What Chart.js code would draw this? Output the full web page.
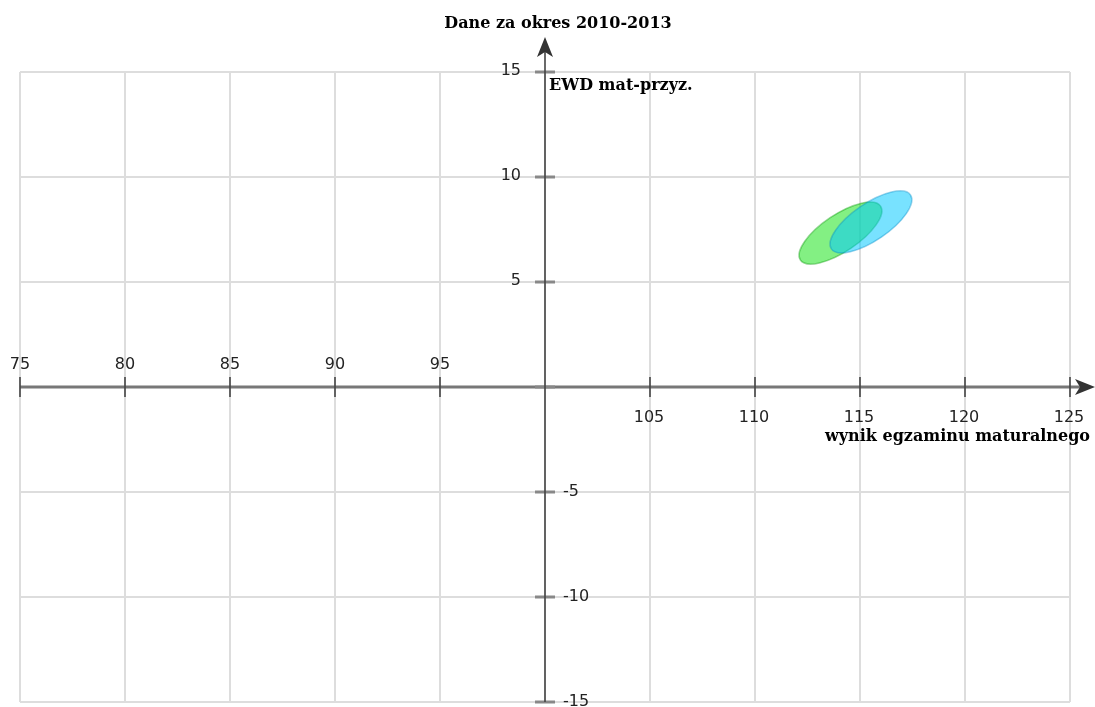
<!DOCTYPE html>
<html>
<head>
<meta charset="utf-8">
<script src="https://cdn.jsdelivr.net/npm/chart.js@4"></script>
<style>
  html, body { margin: 0; padding: 0; background: #ffffff; }
  #wrap { width: 1095px; height: 707px; position: relative; }
</style>
</head>
<body>
<div id="wrap"><canvas id="c" width="1095" height="707"></canvas></div>
<script>
// ---- data ----
const chartTitle = 'Dane za okres 2010-2013';
const xAxisTitle = 'wynik egzaminu maturalnego';
const yAxisTitle = 'EWD mat-przyz.';
const xTicks = [75, 80, 85, 90, 95, 100, 105, 110, 115, 120, 125];
const yTicks = [-15, -10, -5, 0, 5, 10, 15];
const seriesNames = ['elipsa 1', 'elipsa 2'];
const centerX = [114.07, 115.52];     // wynik egzaminu
const centerY = [7.33, 7.86];         // EWD
const semiMajor = [2.30, 2.28];       // data units
const semiMinor = [0.88, 0.88];       // data units
const tiltDeg = [33.9, 34.3];         // degrees, counter-clockwise
const fillColors = ['rgba(30,228,30,0.55)', 'rgba(0,200,255,0.53)'];
const strokeColors = ['rgba(0,150,0,0.4)', 'rgba(0,140,200,0.4)'];

const X_MIN = 75, X_MAX = 125, Y_MIN = -15, Y_MAX = 15, X_CROSS = 100, Y_CROSS = 0;

const ellipsePlugin = {
  id: 'ellipses',
  beforeDatasetsDraw(chart) {
    const ctx = chart.ctx;
    const xs = chart.scales.x, ys = chart.scales.y;
    const sx = xs.getPixelForValue(1) - xs.getPixelForValue(0);
    const sy = ys.getPixelForValue(0) - ys.getPixelForValue(1);
    chart.data.datasets.forEach((ds, i) => {
      const p = ds.data[0];
      const px = xs.getPixelForValue(p.x), py = ys.getPixelForValue(p.y);
      ctx.save();
      ctx.beginPath();
      ctx.translate(px, py);
      ctx.scale(sx, -sy);
      ctx.rotate(ds.tilt * Math.PI / 180);
      ctx.ellipse(0, 0, ds.rx, ds.ry, 0, 0, Math.PI * 2);
      ctx.restore();
      ctx.save();
      ctx.fillStyle = ds.fillCol;
      ctx.fill();
      ctx.lineWidth = 1.5;
      ctx.strokeStyle = ds.strokeCol;
      ctx.stroke();
      ctx.restore();
    });
  }
};

const axesPlugin = {
  id: 'crossAxes',
  afterDatasetsDraw(chart) {
    const ctx = chart.ctx;
    const xs = chart.scales.x, ys = chart.scales.y;
    const ax = xs.getPixelForValue(X_CROSS);
    const ay = ys.getPixelForValue(Y_CROSS);
    const left = xs.getPixelForValue(X_MIN), right = xs.getPixelForValue(X_MAX);
    const top = ys.getPixelForValue(Y_MAX), bottom = ys.getPixelForValue(Y_MIN);
    ctx.save();
    // x axis line
    ctx.strokeStyle = '#777777';
    ctx.lineWidth = 3;
    ctx.beginPath();
    ctx.moveTo(left, ay);
    ctx.lineTo(right + 15, ay);
    ctx.stroke();
    // y-axis ticks (gray, thick)
    ctx.strokeStyle = '#888888';
    ctx.lineWidth = 3;
    yTicks.forEach(v => {
      const y = ys.getPixelForValue(v);
      ctx.beginPath();
      ctx.moveTo(ax - 10, y);
      ctx.lineTo(ax + 10, y);
      ctx.stroke();
    });
    // y axis line
    ctx.strokeStyle = '#444444';
    ctx.lineWidth = 1.6;
    ctx.beginPath();
    ctx.moveTo(ax, bottom);
    ctx.lineTo(ax, top - 22);
    ctx.stroke();
    // x-axis ticks (dark, thin)
    ctx.strokeStyle = '#444444';
    ctx.lineWidth = 1.6;
    xTicks.forEach(v => {
      if (v === X_CROSS) return;
      const x = xs.getPixelForValue(v);
      ctx.beginPath();
      ctx.moveTo(x, ay - 10);
      ctx.lineTo(x, ay + 10);
      ctx.stroke();
    });
    // arrows
    ctx.fillStyle = '#333333';
    const ty = top - 35;
    ctx.beginPath();
    ctx.moveTo(ax, ty);
    ctx.lineTo(ax + 8, ty + 20);
    ctx.lineTo(ax, ty + 15);
    ctx.lineTo(ax - 8, ty + 20);
    ctx.closePath();
    ctx.fill();
    const tx = right + 25;
    ctx.beginPath();
    ctx.moveTo(tx, ay);
    ctx.lineTo(tx - 20, ay - 8);
    ctx.lineTo(tx - 15, ay);
    ctx.lineTo(tx - 20, ay + 8);
    ctx.closePath();
    ctx.fill();

    // tick labels
    ctx.fillStyle = '#222222';
    ctx.font = '16px "DejaVu Sans"';
    xTicks.forEach(v => {
      if (v === X_CROSS) return;
      const x = xs.getPixelForValue(v);
      ctx.textAlign = 'center';
      ctx.textBaseline = 'alphabetic';
      if (v < X_CROSS) ctx.fillText(String(v), x, ay - 18);
      else ctx.fillText(String(v), x - 1, ay + 35);
    });
    yTicks.forEach(v => {
      if (v === Y_CROSS) return;
      const y = ys.getPixelForValue(v);
      ctx.textBaseline = 'middle';
      if (v > Y_CROSS) {
        ctx.textAlign = 'right';
        ctx.fillText(String(v), ax - 24, y - 1);
      } else {
        ctx.textAlign = 'left';
        ctx.fillText(String(v), ax + 18, y);
      }
    });

    // titles
    ctx.fillStyle = '#000000';
    ctx.font = 'bold 16px "DejaVu Serif"';
    ctx.textBaseline = 'alphabetic';
    ctx.textAlign = 'center';
    ctx.fillText(chartTitle, ax + 13, 28);
    ctx.textAlign = 'left';
    ctx.fillText(yAxisTitle, ax + 4, top + 18);
    ctx.textAlign = 'right';
    ctx.fillText(xAxisTitle, right + 20, ay + 54);
    ctx.restore();
  }
};

const datasets = seriesNames.map((name, i) => ({
  label: name,
  data: [{ x: centerX[i], y: centerY[i] }],
  rx: semiMajor[i],
  ry: semiMinor[i],
  tilt: tiltDeg[i],
  fillCol: fillColors[i],
  strokeCol: strokeColors[i],
  pointRadius: 0,
  pointHoverRadius: 0,
  showLine: false
}));

new Chart(document.getElementById('c'), {
  type: 'scatter',
  data: { datasets },
  options: {
    responsive: false,
    animation: false,
    events: [],
    layout: { padding: { left: 20, right: 25, top: 72, bottom: 5 } },
    plugins: { legend: { display: false }, tooltip: { enabled: false }, title: { display: false } },
    scales: {
      x: {
        type: 'linear', min: X_MIN, max: X_MAX,
        afterBuildTicks: (s) => { s.ticks = xTicks.map(v => ({ value: v })); },
        ticks: { display: false },
        grid: { color: '#dddddd', lineWidth: 2, drawTicks: false },
        border: { display: false }
      },
      y: {
        type: 'linear', min: Y_MIN, max: Y_MAX,
        afterBuildTicks: (s) => { s.ticks = yTicks.map(v => ({ value: v })); },
        ticks: { display: false },
        grid: { color: '#dddddd', lineWidth: 2, drawTicks: false },
        border: { display: false }
      }
    }
  },
  plugins: [ellipsePlugin, axesPlugin]
});
</script>
</body>
</html>
